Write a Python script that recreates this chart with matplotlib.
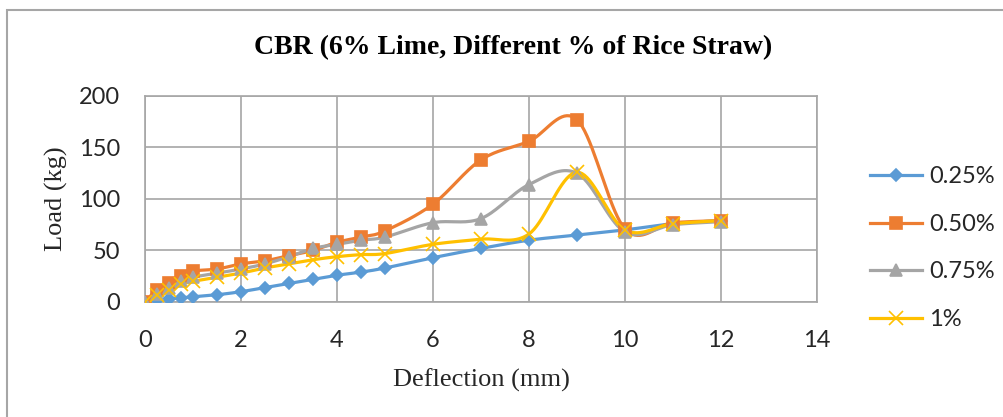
import matplotlib.pyplot as plt
import numpy as np

deflection = [0, 0.25, 0.5, 0.75, 1, 1.5, 2, 2.5, 3, 3.5, 4, 4.5, 5, 6, 7, 8, 9, 10, 11, 12]
rs_025 = [0, 2, 3, 4, 5, 7, 10, 14, 18, 22, 26, 29, 33, 43, 52, 60, 65, 70, 76, 79]
rs_050 = [0, 12, 18, 25, 30, 32, 37, 40, 45, 50, 58, 63, 69, 95, 138, 156, 177, 71, 77, 79]
rs_075 = [0, 8, 14, 20, 24, 28, 32, 37, 44, 52, 56, 60, 63, 77, 81, 114, 125, 68, 75, 78]
rs_1 = [0, 7, 12, 17, 20, 24, 28, 33, 37, 41, 44, 46, 47, 56, 61, 66, 126, 70, 76, 79]
labels = ['0.25%', '0.50%', '0.75%', '1%']


def smooth(x, y, n=20):
    # excel style smoothed line (bezier through the points)
    x = np.asarray(x, float)
    y = np.asarray(y, float)
    px = np.concatenate([[x[0]], x, [x[-1]]])
    py = np.concatenate([[y[0]], y, [y[-1]]])
    t = np.linspace(0, 1, n)[:, None]
    xs, ys = [], []
    for i in range(1, len(px) - 2):
        p0 = np.array([px[i], py[i]])
        p3 = np.array([px[i + 1], py[i + 1]])
        c1 = p0 + (p3 - np.array([px[i - 1], py[i - 1]])) / 6
        c2 = p3 - (np.array([px[i + 2], py[i + 2]]) - p0) / 6
        b = (1 - t) ** 3 * p0 + 3 * (1 - t) ** 2 * t * c1 + 3 * (1 - t) * t ** 2 * c2 + t ** 3 * p3
        xs.append(b[:, 0])
        ys.append(b[:, 1])
    return np.concatenate(xs), np.concatenate(ys)


fig = plt.figure(figsize=(10.04, 4.17), dpi=100)
ax = fig.add_axes([0.1444, 0.2758, 0.6693, 0.494])

series = [rs_025, rs_050, rs_075, rs_1]
colors = ['#5B9BD5', '#ED7D31', '#A5A5A5', '#FFC000']
markers = ['D', 's', '^', 'x']
msizes = [6, 8, 8, 10]

for y, c, m, ms, lab in zip(series, colors, markers, msizes, labels):
    sx, sy = smooth(deflection, y)
    ax.plot(sx, sy, color=c, lw=2.3, zorder=3)
    ax.plot(deflection, y, linestyle='none', marker=m, color=c, ms=ms, mew=1.2, zorder=4)
    ax.plot([], [], color=c, lw=2.3, marker=m, ms=ms, mew=1.2, label=lab)

ax.set_xlim(0, 14)
ax.set_ylim(0, 200)
ax.set_xticks(np.arange(0, 15, 2))
ax.set_yticks(np.arange(0, 201, 50))
ax.grid(color='#A6A6A6', lw=1.2)
ax.set_axisbelow(True)
for s in ax.spines.values():
    s.set_color('#A6A6A6')
    s.set_linewidth(1.2)
ax.tick_params(length=0, labelsize=17, labelcolor='#262626')
ax.tick_params(axis='x', pad=20)
ax.tick_params(axis='y', pad=18)
for t in ax.get_xticklabels() + ax.get_yticklabels():
    t.set_fontfamily('Lato')

ax.set_xlabel('Deflection (mm)', fontfamily='Liberation Serif', fontsize=19, labelpad=13, color='#262626')
ax.set_ylabel('Load (kg)', fontfamily='Liberation Serif', fontsize=19, labelpad=8, color='#262626')
fig.text(0.511, 0.887, 'CBR (6% Lime, Different % of Rice Straw)', ha='center', va='center',
         fontfamily='Liberation Serif', fontweight='bold', fontsize=20)

leg = fig.legend(loc='center left', bbox_to_anchor=(0.857, 0.405), frameon=False,
                 prop={'family': 'Lato', 'size': 17}, labelspacing=1.13,
                 handlelength=2.2, handletextpad=0.3, borderaxespad=0)
for txt in leg.get_texts():
    txt.set_color('#262626')

# outer frame of the chart area
fig.patches.append(plt.Rectangle((0.007, -0.1), 1.1, 1.076, transform=fig.transFigure,
                                 fill=False, edgecolor='#A6A6A6', lw=1.5))

fig.savefig('out.png', dpi=100)
